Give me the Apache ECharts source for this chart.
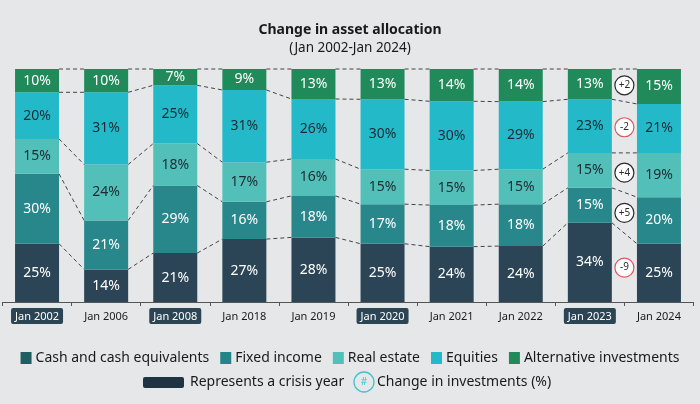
<!DOCTYPE html>
<html>
<head>
<meta charset="utf-8">
<script src="https://cdn.jsdelivr.net/npm/echarts@6/dist/echarts.min.js"></script>
<style>
html,body{margin:0;padding:0;background:#e6e7e9;}
#c{width:700px;height:404px;}
</style>
</head>
<body>
<div id="c"></div>
<script>
const categories = ['Jan 2002','Jan 2006','Jan 2008','Jan 2018','Jan 2019','Jan 2020','Jan 2021','Jan 2022','Jan 2023','Jan 2024'];
const crisisYears = ['Jan 2002','Jan 2008','Jan 2020','Jan 2023'];
const seriesNames = ['Cash and cash equivalents','Fixed income','Real estate','Equities','Alternative investments'];
const cash        = [25,14,21,27,28,25,24,24,34,25];
const fixedIncome = [30,21,29,16,18,17,18,18,15,20];
const realEstate  = [15,24,18,17,16,15,15,15,15,19];
const equities    = [20,31,25,31,26,30,30,29,23,21];
const alternative = [10,10, 7, 9,13,13,14,14,13,15];
// change Jan 2023 -> Jan 2024, in series order (cash ... alternative)
const changes = [-9, 5, 4, -2, 2];

const values = [cash, fixedIncome, realEstate, equities, alternative];
const barColors = ['#2c4556','#27878b','#52c0b8','#23b9c9','#218a5a'];
const legendColors = ['#1f5f63','#23858a','#52c0b8','#23b9c9','#218a5a'];
const labelColors = ['#ffffff','#ffffff','#1c2a33','#1c2a33','#ffffff'];
const FONT = 'Noto Sans';
const BAR_W = 44;

const totals = categories.map((_, i) => values.reduce((s, arr) => s + arr[i], 0));
const norm = values.map(arr => arr.map((v, i) => v / totals[i] * 100));
// cumulative boundaries (top of each series)
const cum = values.map((_, k) => categories.map((_, i) => {
  let s = 0; for (let j = 0; j <= k; j++) s += norm[j][i]; return s;
}));

const barSeries = seriesNames.map((name, k) => ({
  name, type: 'bar', stack: 'all', barWidth: BAR_W,
  itemStyle: { color: barColors[k] },
  label: {
    show: true, position: 'inside', fontFamily: FONT, fontSize: 14,
    color: labelColors[k],
    formatter: p => values[k][p.dataIndex] + '%'
  },
  emphasis: { disabled: true },
  data: norm[k]
}));

const connectorSeries = {
  type: 'custom', silent: true, z: 5,
  data: categories.slice(0, -1).map((_, i) => [i, 0]),
  renderItem: (params, api) => {
    const i = params.dataIndex;
    const children = [];
    for (let k = 0; k < values.length; k++) {
      const a = api.coord([i, cum[k][i]]);
      const b = api.coord([i + 1, cum[k][i + 1]]);
      children.push({
        type: 'line',
        shape: { x1: a[0] + BAR_W / 2, y1: a[1], x2: b[0] - BAR_W / 2, y2: b[1] },
        style: { stroke: '#444444', lineWidth: 1, lineDash: [4, 3] }
      });
    }
    return { type: 'group', children };
  }
};

const changeSeries = {
  type: 'custom', silent: true, z: 6,
  data: [[categories.length - 2, 0]],
  renderItem: (params, api) => {
    const i = categories.length - 2;
    const children = [];
    for (let k = 0; k < changes.length; k++) {
      const midL = cum[k][i] - norm[k][i] / 2;
      const midR = cum[k][i + 1] - norm[k][i + 1] / 2;
      const a = api.coord([i, (midL + midR) / 2]);
      const b = api.coord([i + 1, 0]);
      const x = (a[0] + b[0]) / 2, y = a[1];
      const neg = changes[k] < 0;
      children.push({
        type: 'circle', shape: { cx: x, cy: y, r: 9.5 },
        style: { fill: '#ffffff', stroke: neg ? '#e0575b' : '#2a2a2a', lineWidth: 1.2 }
      });
      children.push({
        type: 'text', x, y,
        style: { text: (changes[k] > 0 ? '+' : '') + changes[k], fill: '#2a2a2a',
          font: '10px ' + FONT, align: 'center', verticalAlign: 'middle' }
      });
    }
    return { type: 'group', children };
  }
};

const chart = echarts.init(document.getElementById('c'));
chart.setOption({
  backgroundColor: '#e6e7e9',
  animation: false,
  title: {
    text: 'Change in asset allocation',
    subtext: '(Jan 2002-Jan 2024)',
    left: 'center', top: 18, itemGap: 4,
    textStyle: { fontFamily: FONT, fontSize: 14, fontWeight: 'bold', color: '#1a1a1a' },
    subtextStyle: { fontFamily: FONT, fontSize: 13.5, color: '#1a1a1a' }
  },
  legend: {
    top: 346, left: 'center', itemWidth: 11, itemHeight: 12, itemGap: 11,
    icon: 'rect', selectedMode: false,
    textStyle: { fontFamily: FONT, fontSize: 14, color: '#1a1a1a', padding: [0, 0, 0, -1] },
    data: seriesNames.map((n, k) => ({ name: n, itemStyle: { color: legendColors[k] } }))
  },
  grid: { left: 2.5, right: 6.5, top: 69, bottom: 102 },
  xAxis: {
    type: 'category', data: categories,
    axisLine: { lineStyle: { color: '#555' } },
    axisTick: { show: true, length: 4, lineStyle: { color: '#555' } },
    axisLabel: {
      margin: 6, interval: 0, fontFamily: FONT, fontSize: 11, color: '#1a1a1a',
      formatter: v => crisisYears.includes(v) ? '{c|' + v + '}' : '{n|' + v + '}',
      rich: {
        c: { backgroundColor: '#2b4555', color: '#ffffff', padding: [3, 4, 2, 4], borderRadius: 2,
             fontFamily: FONT, fontSize: 11 },
        n: { color: '#1a1a1a', padding: [3, 4, 2, 4], fontFamily: FONT, fontSize: 11 }
      }
    }
  },
  yAxis: { type: 'value', min: 0, max: 100, show: false, splitLine: { show: false } },
  graphic: [
    { type: 'rect', shape: { x: 143, y: 377, width: 41, height: 11, r: 2 }, style: { fill: '#1f3442' } },
    { type: 'text', x: 190, y: 382, style: { text: 'Represents a crisis year', font: '14px ' + FONT, fill: '#1a1a1a', verticalAlign: 'middle' } },
    { type: 'circle', shape: { cx: 364, cy: 382, r: 10 }, style: { fill: 'transparent', stroke: '#3fc2d0', lineWidth: 1.3 } },
    { type: 'text', x: 364, y: 382, style: { text: '#', font: '10px ' + FONT, fill: '#3fc2d0', align: 'center', verticalAlign: 'middle' } },
    { type: 'text', x: 377, y: 382, style: { text: 'Change in investments (%)', font: '14px ' + FONT, fill: '#1a1a1a', verticalAlign: 'middle' } }
  ],
  series: [...barSeries, connectorSeries, changeSeries]
});
</script>
</body>
</html>
